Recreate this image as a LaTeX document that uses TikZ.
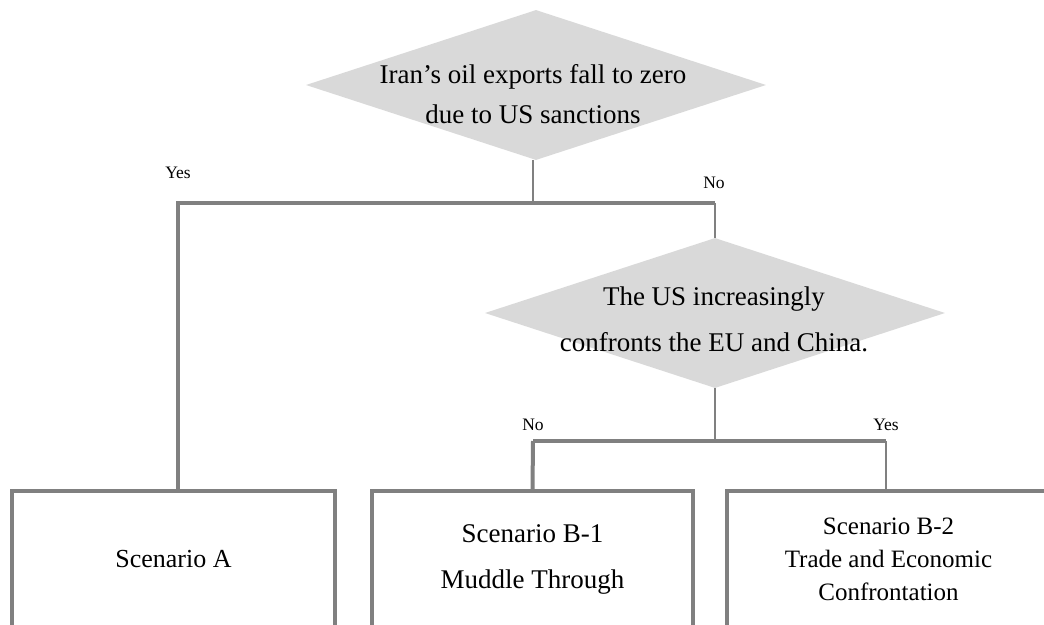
\documentclass[tikz,border=0pt]{standalone}
\usepackage{fontspec}
\setmainfont{Liberation Serif}
\usetikzlibrary{shapes.geometric}
\definecolor{linegray}{HTML}{808080}
\definecolor{dfill}{HTML}{D9D9D9}
\begin{document}
\begin{tikzpicture}[x=1pt,y=-1pt,
  decision/.style={diamond, fill=dfill, draw=none, minimum width=460pt, minimum height=150pt, inner sep=0pt},
  dtext/.style={align=center, inner sep=0pt},
  outcome/.style={rectangle, draw=linegray, line width=4pt, fill=white, align=center, inner sep=0pt},
  lbl/.style={inner sep=0pt, font=\fontsize{17.5}{20}\selectfont},
  thinline/.style={draw=linegray, line width=2pt},
  midline/.style={draw=linegray, line width=3.5pt},
  thickline/.style={draw=linegray, line width=4pt},
]
\useasboundingbox (0,0) rectangle (1044,624);
\fill[white] (0,0) rectangle (1044,624);

% decisions
\node[decision] (d1) at (536,85) {};
\node[dtext, font=\fontsize{27}{40}\selectfont] (t1) at (533,94) {Iran’s oil exports fall to zero\\due to US sanctions};
\node[decision] (d2) at (715,313) {};
\node[dtext, font=\fontsize{27}{46}\selectfont] (t2) at (714,319) {The US increasingly\\confronts the EU and China.};

% outcomes
\node[outcome, minimum width=323pt, minimum height=136pt, font=\fontsize{26}{30}\selectfont] (A) at (173.5,559) {Scenario A};
\node[outcome, minimum width=321pt, minimum height=136pt, font=\fontsize{27}{46}\selectfont] (B1) at (532.5,559) {Scenario B-1\\Muddle Through};
\node[outcome, minimum width=323pt, minimum height=136pt, font=\fontsize{25}{33}\selectfont] (B2) at (888.5,559) {Scenario B-2\\Trade and Economic\\Confrontation};

% junctions
\coordinate (j1) at (533,203);
\coordinate (aT) at (178,491);
\coordinate (j2) at (533,441);
\coordinate (bT) at (886,491);

% connectors
\draw[thinline] (d1.south -| j1) -- (j1);
\draw[thickline] (aT) -- (aT |- j1) -- (j1);
\draw[midline] (j1) -- (d2.north |- j1);
\draw[thinline] (d2.north |- j1) -- (d2.north);
\draw[thinline] (d2.south) -- (d2.south |- j2);
\draw[midline] (j2) -- (bT |- j2);
\draw[thickline] (j2) -- (B1.north);
\draw[thinline] (bT |- j2) -- (bT);

% labels
\node[lbl] (ly1) at (178,173) {Yes};
\node[lbl] (ln1) at (714,183) {No};
\node[lbl] (ln2) at (533,425) {No};
\node[lbl] (ly2) at (886,425) {Yes};
\end{tikzpicture}
\end{document}
